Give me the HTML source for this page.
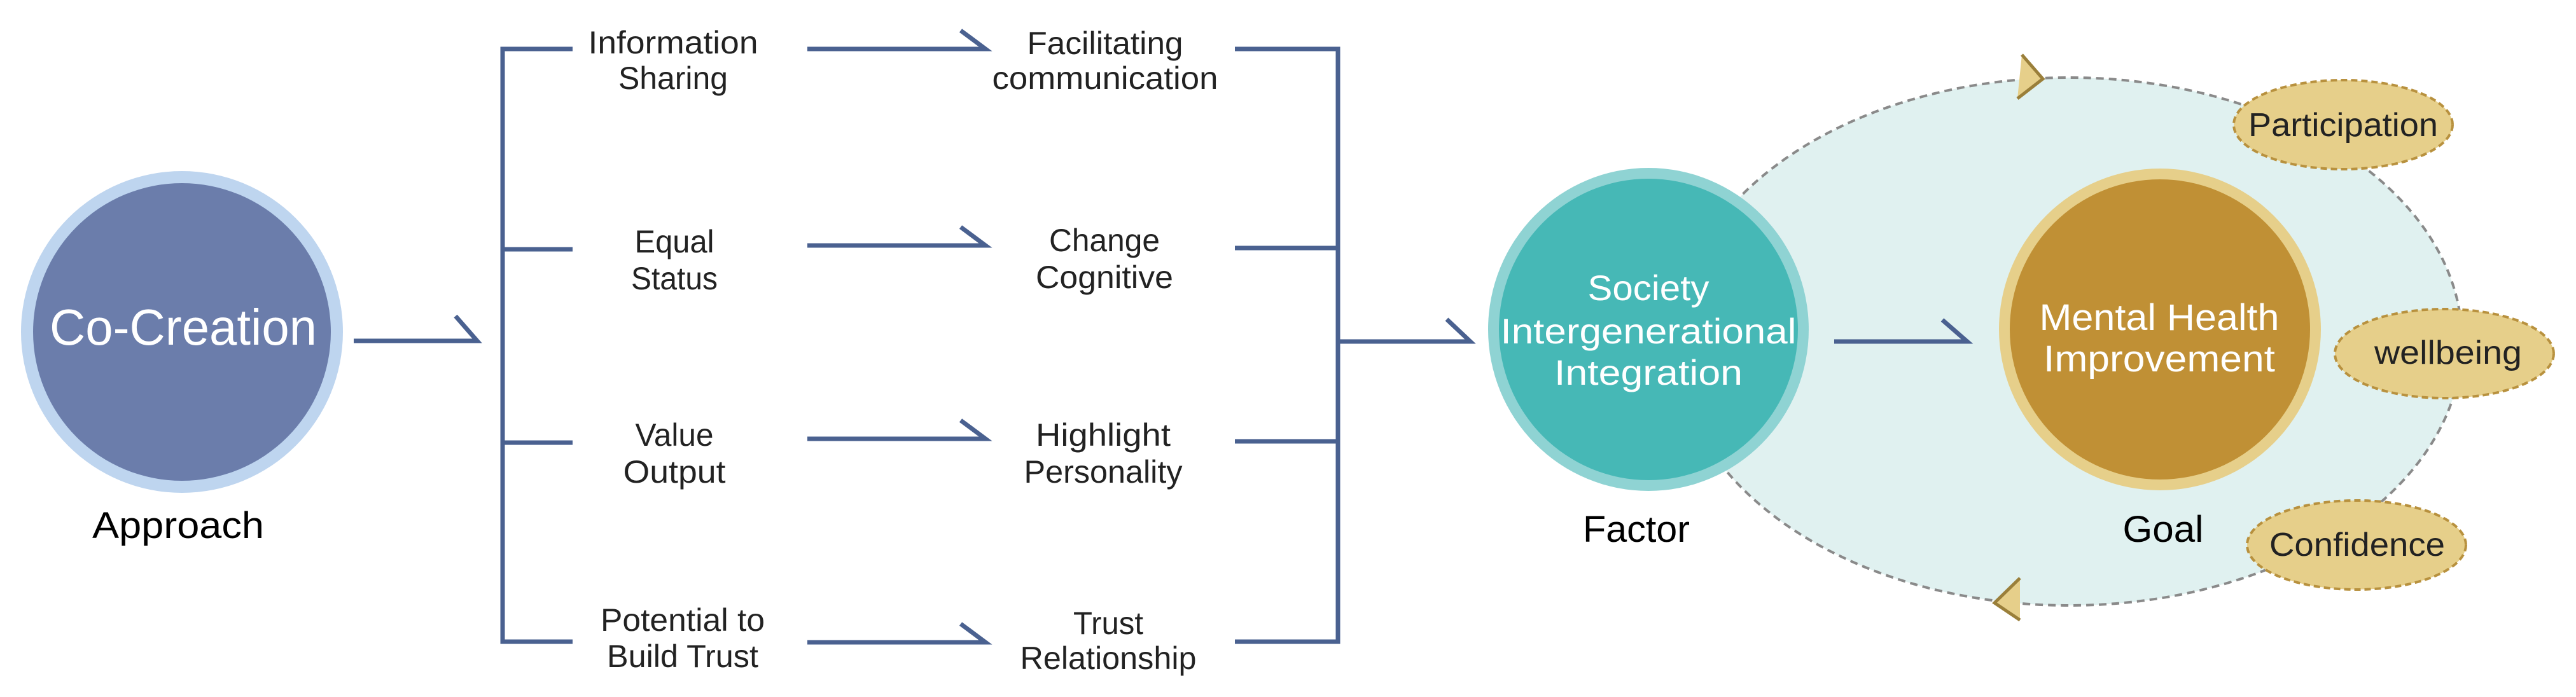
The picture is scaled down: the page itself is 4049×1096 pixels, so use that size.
<!DOCTYPE html>
<html><head><meta charset="utf-8"><style>
html,body{margin:0;padding:0;background:#fff;}
svg{display:block;}
text{font-family:"Liberation Sans",sans-serif;text-anchor:middle;}
</style></head><body>
<svg width="4049" height="1096" viewBox="0 0 4049 1096" xmlns="http://www.w3.org/2000/svg">
<!-- big light ellipse -->
<ellipse cx="3252" cy="537" rx="618" ry="415" fill="#e0f1f0" stroke="#8a8a8a" stroke-width="4" stroke-dasharray="12,8"/>
<!-- Co-Creation -->
<circle cx="286" cy="522" r="253" fill="#bed5ef"/>
<circle cx="286" cy="522" r="234" fill="#6b7dab"/>
<text x="288" y="542" font-size="80" fill="#fff" textLength="420" lengthAdjust="spacingAndGlyphs">Co-Creation</text>
<text x="280" y="846" font-size="58" fill="#000" textLength="270" lengthAdjust="spacingAndGlyphs">Approach</text>
<g stroke="#4a6190" stroke-width="7" fill="none" stroke-linecap="butt">
<path d="M556 536 H750 L716 497"/>
<path d="M900 77 H790 V1009 H900 M790 392 H900 M790 696 H900"/>
<path d="M1269 77 H1549 L1510 48"/>
<path d="M1269 386 H1549 L1510 357"/>
<path d="M1269 690 H1549 L1510 661"/>
<path d="M1269 1010 H1549 L1510 981"/>
<path d="M1941 77 H2103 V1009 H1941 M2103 390 H1941 M2103 694 H1941"/>
<path d="M2103 537 H2311 L2274 502"/>
<path d="M2883 537 H3092 L3053 503"/>
</g>
<g font-size="50" fill="#222">
<text x="1058" y="84" textLength="267" lengthAdjust="spacingAndGlyphs">Information</text>
<text x="1058" y="140" textLength="172" lengthAdjust="spacingAndGlyphs">Sharing</text>
<text x="1060" y="397" textLength="125" lengthAdjust="spacingAndGlyphs">Equal</text>
<text x="1060" y="455" textLength="136" lengthAdjust="spacingAndGlyphs">Status</text>
<text x="1060" y="701" textLength="123" lengthAdjust="spacingAndGlyphs">Value</text>
<text x="1060" y="759" textLength="161" lengthAdjust="spacingAndGlyphs">Output</text>
<text x="1073" y="992" textLength="258" lengthAdjust="spacingAndGlyphs">Potential to</text>
<text x="1073" y="1049" textLength="238" lengthAdjust="spacingAndGlyphs">Build Trust</text>
<text x="1737" y="85" textLength="245" lengthAdjust="spacingAndGlyphs">Facilitating</text>
<text x="1737" y="140" textLength="355" lengthAdjust="spacingAndGlyphs">communication</text>
<text x="1736" y="395" textLength="174" lengthAdjust="spacingAndGlyphs">Change</text>
<text x="1736" y="453" textLength="216" lengthAdjust="spacingAndGlyphs">Cognitive</text>
<text x="1734" y="701" textLength="212" lengthAdjust="spacingAndGlyphs">Highlight</text>
<text x="1734" y="759" textLength="249" lengthAdjust="spacingAndGlyphs">Personality</text>
<text x="1742" y="997" textLength="110" lengthAdjust="spacingAndGlyphs">Trust</text>
<text x="1742" y="1052" textLength="277" lengthAdjust="spacingAndGlyphs">Relationship</text>
</g>
<!-- Society -->
<ellipse cx="2591" cy="518" rx="252" ry="254" fill="#8fd3d3"/>
<ellipse cx="2591" cy="518" rx="235" ry="237" fill="#46b8b6"/>
<g font-size="56" fill="#fff">
<text x="2591" y="472" textLength="191" lengthAdjust="spacingAndGlyphs">Society</text>
<text x="2591" y="540" textLength="465" lengthAdjust="spacingAndGlyphs">Intergenerational</text>
<text x="2591" y="605" textLength="296" lengthAdjust="spacingAndGlyphs">Integration</text>
</g>
<text x="2572" y="852" font-size="58" fill="#000" textLength="168" lengthAdjust="spacingAndGlyphs">Factor</text>
<!-- Mental -->
<circle cx="3395" cy="518" r="253" fill="#e6cf8a"/>
<circle cx="3395" cy="518" r="236" fill="#c09035"/>
<g font-size="58" fill="#fff">
<text x="3394" y="519" textLength="377" lengthAdjust="spacingAndGlyphs">Mental Health</text>
<text x="3394" y="584" textLength="364" lengthAdjust="spacingAndGlyphs">Improvement</text>
</g>
<text x="3400" y="852" font-size="58" fill="#000" textLength="127" lengthAdjust="spacingAndGlyphs">Goal</text>
<!-- small ellipses -->
<g fill="#e6cf8a" stroke="#b8913e" stroke-width="4" stroke-dasharray="10,6">
<ellipse cx="3683" cy="196" rx="172" ry="70"/>
<ellipse cx="3842" cy="556" rx="172" ry="70"/>
<ellipse cx="3704" cy="857" rx="172" ry="70"/>
</g>
<g font-size="52" fill="#222">
<text x="3683" y="214" textLength="298" lengthAdjust="spacingAndGlyphs">Participation</text>
<text x="3848" y="572" textLength="232" lengthAdjust="spacingAndGlyphs">wellbeing</text>
<text x="3705" y="874" textLength="276" lengthAdjust="spacingAndGlyphs">Confidence</text>
</g>
<!-- triangles -->
<path d="M3178 86 L3211 124 L3171 155 Z" fill="#e6cf8a"/>
<path d="M3178 86 L3211 124 L3171 155" fill="none" stroke="#9a7f3a" stroke-width="5"/>
<path d="M3175 909 L3135 948 L3175 975 Z" fill="#e6cf8a"/>
<path d="M3175 909 L3135 948 L3175 975" fill="none" stroke="#9a7f3a" stroke-width="5"/>
</svg>
</body></html>
